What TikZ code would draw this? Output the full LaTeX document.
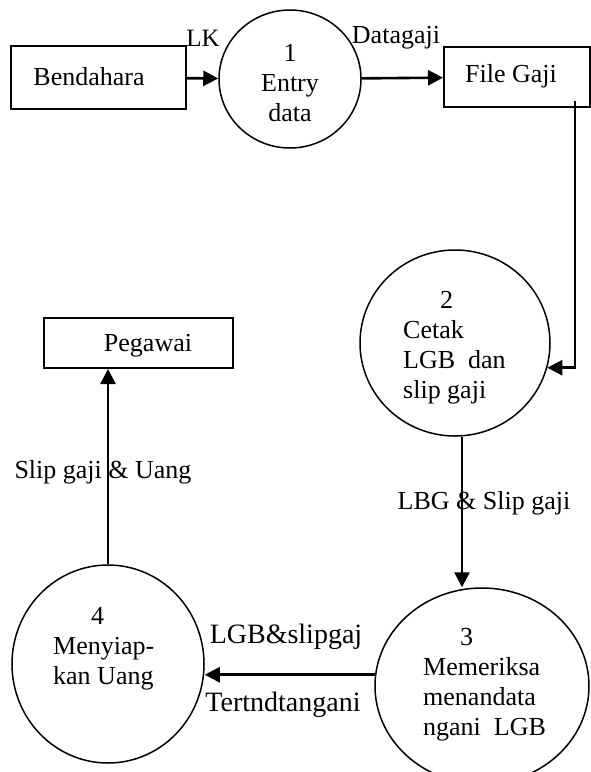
\documentclass[tikz,border=0pt]{standalone}
\usepackage{fontspec}
\setmainfont{Liberation Serif}
\usetikzlibrary{shapes.geometric,arrows.meta}
\begin{document}
\begin{tikzpicture}
[x=1pt,y=-1pt,
  boxdecorate/.style={shape=rectangle,draw,line width=2pt,inner sep=0pt},%
  procdecorate/.style={shape=ellipse,draw,line width=1.5pt,inner sep=0pt},
  textdecorate/.style={font=\fontsize{26}{30}\selectfont,inner sep=0pt},
  arrowdecorate/.style={-{Triangle[length=15pt,width=15pt]},line width=2.6pt}]
\useasboundingbox (0,0) rectangle (591,772);
%% external entities
\foreach \nodename/\x/\y/\w/\h in {bend/98.5/77.5/175/63,
  file/517/77/146/60, peg/138.5/343/189/50} {
  \node (\nodename) at (\x,\y) [boxdecorate,minimum width=\w pt,minimum height=\h pt] {};
}
\node (tbend) at (89,77) [textdecorate] {Bendahara};
\node (tfile) at (511,76) [textdecorate] {File Gaji};
\node (tpeg) at (148,346) [textdecorate] {Pegawai};
%% processes
\foreach \nodename/\x/\y/\w/\h in {p1/290/79/142/138, p2/455/343/190/186,
  p3/482/686/214/196, p4/108/664/192/198} {
  \node (\nodename) at (\x,\y) [procdecorate,minimum width=\w pt,minimum height=\h pt] {};
}
\node (tp1) at (290,83) [textdecorate,align=center] {1\\Entry\\data};
\node (tp2) at (403,348) [textdecorate,align=left,anchor=west] {\hspace*{37pt}2\\Cetak\\LGB\ \ dan\\slip gaji};
\node (tp3) at (423,685) [textdecorate,align=left,anchor=west] {\hspace*{37pt}3\\Memeriksa\\menandata\\ngani\ \ LGB};
\node (tp4) at (53,649) [textdecorate,align=left,anchor=west] {\hspace*{38pt}4\\Menyiap-\\kan Uang};
%% flow labels
\node (lk) at (203,38) [textdecorate,font=\fontsize{25}{30}\selectfont] {LK};
\node (datagaji) at (396,38) [textdecorate] {Datagaji};
\node (lbgslip) at (484,503) [textdecorate] {LBG \& Slip gaji};
\node (slipuang) at (103,472) [textdecorate] {Slip gaji \& Uang};
\node (lgbslip) at (286,637) [textdecorate,font=\fontsize{28}{30}\selectfont] {LGB\&slipgaj};
\node (tertnd) at (283,705) [textdecorate,font=\fontsize{28}{30}\selectfont] {Tertndtangani};
%% flows
\path
\foreach \startnode/\endnode in {bend/p1, p1/file} {
  (\startnode) edge[arrowdecorate] node {} (\endnode)
};
\draw[arrowdecorate] ([xshift=-16pt,yshift=7pt]file.south east) |- (p2.-15);
\draw[arrowdecorate] ([xshift=7pt]p2.south) -- ([xshift=7pt]p2.south |- p3.north);
\draw[arrowdecorate] (p3.174) -- (p3.174 -| p4.east);
\draw[arrowdecorate] (p4.north) -- (p4.north |- peg.south);
\end{tikzpicture}
\end{document}
